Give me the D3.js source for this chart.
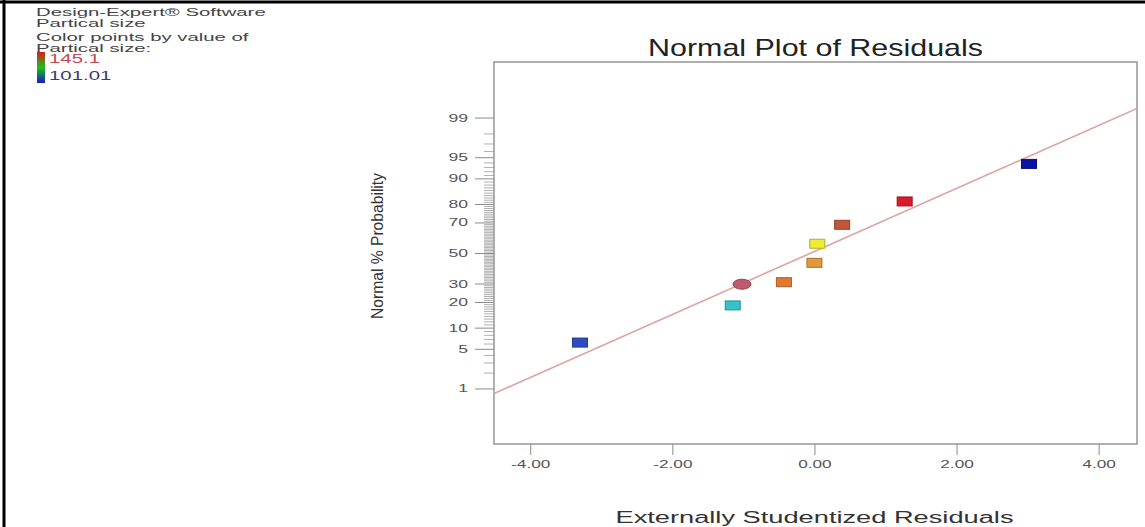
<!DOCTYPE html>
<html>
<head>
<meta charset="utf-8">
<script src="https://cdn.jsdelivr.net/npm/d3@7"></script>
<style>
  html, body { margin: 0; padding: 0; background: #fff; }
  svg { display: block; font-family: "Liberation Sans", Arial, sans-serif; }
</style>
</head>
<body>
<svg id="chart" width="1145" height="527"></svg>
<script>
// Externally studentized residuals and their normal % probability
const residuals  = [-3.30, -1.15, -1.02, -0.43, 0.00, 0.04, 0.39, 1.27, 3.02];
const normalProb = [6.2, 18.4, 29.6, 30.8, 43.3, 56.3, 68.6, 81.2, 93.7];
// Marker colour per run (coloured by Partical size) and marker shape
const pointFill   = ["#2c4cc4", "#36c2c8", "#c05a6e", "#e07a32", "#e0983a", "#ecec34", "#c2563a", "#d41c2a", "#0c12a4"];
const pointMarker = ["rect", "rect", "round", "rect", "rect", "rect", "rect", "rect", "rect"];

// Axis ticks
const xTicks = [-4, -2, 0, 2, 4];
const probMajorTicks = [1, 5, 10, 20, 30, 50, 70, 80, 90, 95, 99];
const probMinorTicks = d3.range(1, 100).filter(p => !probMajorTicks.includes(p));

// Reference line on the z (normal quantile) scale: z = intercept + slope * residual
const fitIntercept = 0.026;
const fitSlope = 0.541;

// Legend
const legendLines = ["Design-Expert\u00AE Software", "Partical size", "Color points by value of", "Partical size:"];
const legendHigh = "145.1";
const legendLow = "101.01";

// Inverse standard normal CDF (Acklam's rational approximation)
function probit(p) {
  const a = [-3.969683028665376e+01, 2.209460984245205e+02, -2.759285104469687e+02, 1.383577518672690e+02, -3.066479806614716e+01, 2.506628277459239e+00];
  const b = [-5.447609879822406e+01, 1.615858368580409e+02, -1.556989798598866e+02, 6.680131188771972e+01, -1.328068155288572e+01];
  const c = [-7.784894002430293e-03, -3.223964580411365e-01, -2.400758277161838e+00, -2.549671348770540e+00, 4.374664141464968e+00, 2.938163982963456e+00];
  const d = [7.784695709041462e-03, 3.224671290700398e-01, 2.445134137142996e+00, 3.754408661907416e+00];
  const pl = 0.02425, ph = 1 - pl;
  let q, r;
  if (p < pl) {
    q = Math.sqrt(-2 * Math.log(p));
    return (((((c[0]*q + c[1])*q + c[2])*q + c[3])*q + c[4])*q + c[5]) / ((((d[0]*q + d[1])*q + d[2])*q + d[3])*q + 1);
  }
  if (p > ph) {
    q = Math.sqrt(-2 * Math.log(1 - p));
    return -(((((c[0]*q + c[1])*q + c[2])*q + c[3])*q + c[4])*q + c[5]) / ((((d[0]*q + d[1])*q + d[2])*q + d[3])*q + 1);
  }
  q = p - 0.5; r = q * q;
  return (((((a[0]*r + a[1])*r + a[2])*r + a[3])*r + a[4])*r + a[5])*q / (((((b[0]*r + b[1])*r + b[2])*r + b[3])*r + b[4])*r + 1);
}

const svg = d3.select("#chart");

// Outer black border (top and left edges)
svg.append("line").attr("x1", 0).attr("x2", 1145).attr("y1", 2).attr("y2", 2)
  .attr("stroke", "#000").attr("stroke-width", 3);
svg.append("line").attr("x1", 4).attr("x2", 4).attr("y1", 0).attr("y2", 527)
  .attr("stroke", "#000").attr("stroke-width", 3);

// Scales
const x = d3.scaleLinear().domain([-4.51, 4.54]).range([494, 1137]);
const yz = d3.scaleLinear().domain([-3.28, 3.28]).range([444, 62]);
const yProb = p => yz(probit(p / 100));

const [x0, x1] = x.range();
const [y0, y1] = yz.range();

// Minor probability ticks
const minorAxis = d3.axisLeft(yz)
  .tickValues(probMinorTicks.map(p => probit(p / 100)))
  .tickFormat("")
  .tickSize(10)
  .tickSizeOuter(0);
const gMinor = svg.append("g").attr("transform", `translate(${x0},0)`).call(minorAxis);
gMinor.select(".domain").remove();
gMinor.selectAll(".tick line").attr("stroke", "#9a9a9a").attr("stroke-width", 0.8);

// Major probability ticks with labels
const majorAxis = d3.axisLeft(yz)
  .tickValues(probMajorTicks.map(p => probit(p / 100)))
  .tickFormat((d, i) => String(probMajorTicks[i]))
  .tickSize(19)
  .tickSizeOuter(0);
const gMajor = svg.append("g").attr("transform", `translate(${x0},0)`).call(majorAxis);
gMajor.select(".domain").remove();
gMajor.selectAll(".tick line").attr("stroke", "#8a8a8a").attr("stroke-width", 1);
gMajor.selectAll(".tick text")
  .attr("x", -26 / 1.6)
  .attr("transform", "scale(1.6,1)")
  .attr("font-size", 11)
  .attr("fill", "#555")
  .attr("font-family", "'Liberation Sans', Arial, sans-serif");

// Residual axis (plain hyphen for negative values)
const xAxis = d3.axisBottom(x)
  .tickValues(xTicks)
  .tickFormat(d => d.toFixed(2))
  .tickSize(11)
  .tickSizeOuter(0)
  .tickPadding(5);
const gX = svg.append("g").attr("transform", `translate(0,${y0})`).call(xAxis);
gX.select(".domain").remove();
gX.selectAll(".tick line").attr("stroke", "#8a8a8a").attr("stroke-width", 1);
gX.selectAll(".tick text")
  .attr("transform", "scale(1.5,1)")
  .attr("font-size", 11.5)
  .attr("fill", "#555")
  .attr("font-family", "'Liberation Sans', Arial, sans-serif");

// Plot frame
svg.append("rect")
  .attr("x", x0).attr("y", y1)
  .attr("width", x1 - x0).attr("height", y0 - y1)
  .attr("fill", "none").attr("stroke", "#9c9c9c").attr("stroke-width", 1.6);

// Clip for the reference line
svg.append("clipPath").attr("id", "plotClip")
  .append("rect").attr("x", x0).attr("y", y1).attr("width", x1 - x0).attr("height", y0 - y1);

const lineX = x.domain();
svg.append("path")
  .datum(lineX.map(r => [r, fitIntercept + fitSlope * r]))
  .attr("clip-path", "url(#plotClip)")
  .attr("d", d3.line().x(d => x(d[0])).y(d => yz(d[1])))
  .attr("fill", "none")
  .attr("stroke", "#dba4a0")
  .attr("stroke-width", 1.6);

// Points
const pts = residuals.map((r, i) => ({ r, p: normalProb[i], fill: pointFill[i], marker: pointMarker[i] }));
const gPts = svg.append("g");
gPts.selectAll("rect.pt")
  .data(pts.filter(d => d.marker === "rect"))
  .join("rect")
  .attr("class", "pt")
  .attr("x", d => x(d.r) - 7.5)
  .attr("y", d => yProb(d.p) - 4.5)
  .attr("width", 15)
  .attr("height", 9)
  .attr("fill", d => d.fill)
  .attr("stroke", d => d3.color(d.fill).darker(0.8))
  .attr("stroke-width", 1);
gPts.selectAll("ellipse.pt")
  .data(pts.filter(d => d.marker === "round"))
  .join("ellipse")
  .attr("class", "pt")
  .attr("cx", d => x(d.r))
  .attr("cy", d => yProb(d.p))
  .attr("rx", 9)
  .attr("ry", 5)
  .attr("fill", d => d.fill)
  .attr("stroke", d => d3.color(d.fill).darker(0.8))
  .attr("stroke-width", 1);

// Title and axis titles
svg.append("text")
  .attr("x", (x0 + x1) / 2).attr("y", 56)
  .attr("text-anchor", "middle")
  .attr("font-size", 24)
  .attr("fill", "#222")
  .attr("textLength", 335)
  .attr("lengthAdjust", "spacingAndGlyphs")
  .text("Normal Plot of Residuals");

svg.append("text")
  .attr("x", (x0 + x1) / 2 - 1).attr("y", 523)
  .attr("text-anchor", "middle")
  .attr("font-size", 16)
  .attr("fill", "#333")
  .attr("textLength", 398)
  .attr("lengthAdjust", "spacingAndGlyphs")
  .text("Externally Studentized Residuals");

svg.append("text")
  .attr("transform", "translate(383,246) rotate(-90)")
  .attr("text-anchor", "middle")
  .attr("font-size", 16)
  .attr("fill", "#333")
  .attr("textLength", 146)
  .attr("lengthAdjust", "spacingAndGlyphs")
  .text("Normal % Probability");

// Legend block
const gLeg = svg.append("g");
const legBaselines = [16, 27, 41, 52];
gLeg.selectAll("text.leg")
  .data(legendLines)
  .join("text")
  .attr("class", "leg")
  .attr("transform", (d, i) => `translate(36,${legBaselines[i]}) scale(1.85,1)`)
  .attr("font-size", 11)
  .attr("fill", "#444")
  .text(d => d);

const grad = svg.append("defs").append("linearGradient")
  .attr("id", "legendGrad").attr("x1", 0).attr("x2", 0).attr("y1", 0).attr("y2", 1);
grad.append("stop").attr("offset", "0%").attr("stop-color", "#e01818");
grad.append("stop").attr("offset", "50%").attr("stop-color", "#18c418");
grad.append("stop").attr("offset", "100%").attr("stop-color", "#1818c8");
gLeg.append("rect")
  .attr("x", 37).attr("y", 52).attr("width", 8).attr("height", 31)
  .attr("fill", "url(#legendGrad)");

gLeg.append("text")
  .attr("transform", "translate(49,63) scale(1.7,1)")
  .attr("font-size", 12)
  .attr("fill", "#c0485a")
  .text(legendHigh);
gLeg.append("text")
  .attr("transform", "translate(49,80) scale(1.7,1)")
  .attr("font-size", 12)
  .attr("fill", "#3a3a7a")
  .text(legendLow);
</script>
</body>
</html>
